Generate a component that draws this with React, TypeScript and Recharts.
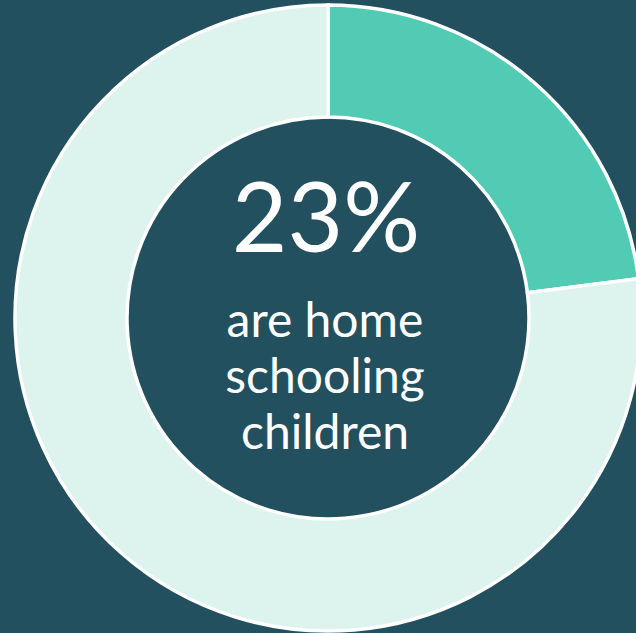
import React from 'react';
import { PieChart, Pie, Cell, Label } from 'recharts';

const categories = ['Home schooling children', 'Other'];
const values = [23, 77];
const colors = ['#52CBB5', '#DCF3EE'];
const headline = '23%';
const captionLines = ['are home', 'schooling', 'children'];

const data = categories.map((name, i) => ({ name, value: values[i] }));

const CenterText = (props: any) => {
  const vb = props.viewBox || {};
  const cx = vb.cx ?? 328;
  const cy = vb.cy ?? 318;
  return (
    <g>
      <text
        x={cx - 2}
        y={cy - 66}
        textAnchor="middle"
        fill="#FFFFFF"
        style={{ fontFamily: 'Lato, sans-serif', fontSize: 96 }}
      >
        {headline}
      </text>
      {captionLines.map((line, i) => (
        <text
          key={line}
          x={cx - 3}
          y={cy + 19 + i * 56}
          textAnchor="middle"
          fill="#FFFFFF"
          style={{ fontFamily: 'Lato, sans-serif', fontSize: 48, fontWeight: 400 }}
        >
          {line}
        </text>
      ))}
    </g>
  );
};

export default function App() {
  return (
    <div style={{ position: 'fixed', left: 0, top: 0, width: 636, height: 633, background: '#22505F', overflow: 'hidden' }}>
      <PieChart width={636} height={633} margin={{ top: 0, right: 0, bottom: 0, left: 0 }}>
        <Pie
          data={data}
          dataKey="value"
          nameKey="name"
          cx={328}
          cy={318}
          innerRadius={201}
          outerRadius={313}
          startAngle={90}
          endAngle={-270}
          stroke="#FFFFFF"
          strokeWidth={3.5}
          isAnimationActive={false}
        >
          {data.map((d, i) => (
            <Cell key={d.name} fill={colors[i]} />
          ))}
          <Label position="center" content={<CenterText />} />
        </Pie>
      </PieChart>
    </div>
  );
}
